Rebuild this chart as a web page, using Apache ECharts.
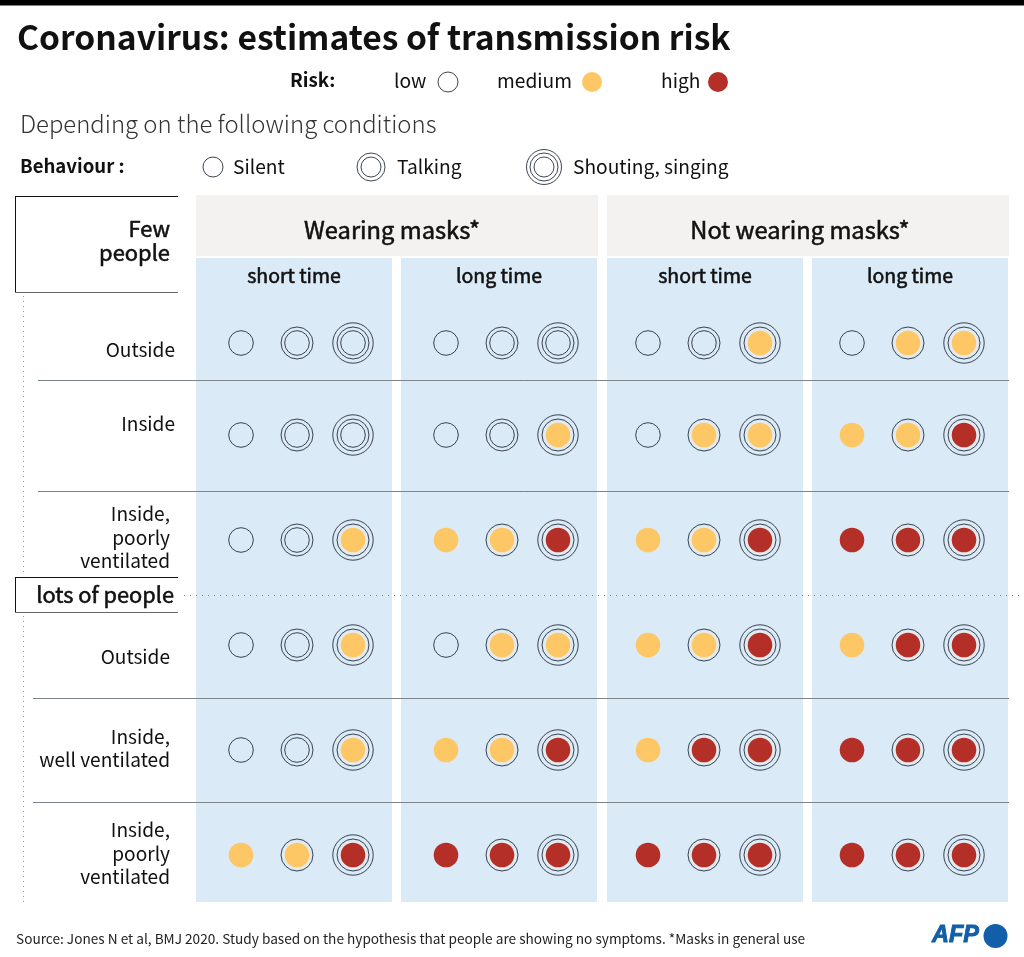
<!DOCTYPE html>
<html style="height: 100%">
<head>
    <meta charset="utf-8">
    <title>Coronavirus: estimates of transmission risk</title>
    <style>
        html, body { height: 100%; margin: 0; overflow: hidden; background: #fff; }
        #container { width: 1024px; height: 957px; }
    </style>
</head>
<body>
<div id="container"></div>
<script src="https://cdn.jsdelivr.net/npm/echarts@6/dist/echarts.min.js"></script>
<script>
// 0 low, 1 medium, 2 high. one row per condition, silent / talking / shouting in each
var behaviours = ['Silent', 'Talking', 'Shouting, singing'];
var conditions = ['Outside', 'Inside', 'Inside,\npoorly\nventilated', 'Outside', 'Inside,\nwell ventilated', 'Inside,\npoorly\nventilated'];
var durations = ['short time', 'long time', 'short time', 'long time'];
var maskGroups = ['Wearing masks*', 'Not wearing masks*'];
var riskLevels = ['low', 'medium', 'high'];

var maskedShort = [[0, 0, 0], [0, 0, 0], [0, 0, 1], [0, 0, 1], [0, 0, 1], [1, 1, 2]];
var maskedLong  = [[0, 0, 0], [0, 0, 1], [1, 1, 2], [0, 1, 1], [1, 1, 2], [2, 2, 2]];
var bareShort   = [[0, 0, 1], [0, 1, 1], [1, 1, 2], [1, 1, 2], [1, 2, 2], [2, 2, 2]];
var bareLong    = [[0, 1, 1], [1, 1, 2], [2, 2, 2], [1, 2, 2], [2, 2, 2], [2, 2, 2]];
var panels = [maskedShort, maskedLong, bareShort, bareLong];

var FONT = '"Noto Sans CJK SC", "Noto Sans", sans-serif';
var riskColors = ['transparent', '#fdc765', '#b42f27'];
var INK = '#1c2530';
var PANEL_BLUE = '#dbeaf7';

var panelLeft = [196, 401, 607, 812];
var gridLeft = [213, 418, 620, 824];
var RING = [12.3, 16, 20.2];

// first row sits closer to the header than the regular row pitch
function rowNudge(row) {
    return row === 0 ? 13 : 0;
}

function circles(cx, cy, behaviour, risk, radii) {
    var out = [];
    var i;
    if (risk > 0 && behaviour > 0) {
        out.push({ type: 'circle', shape: { cx: cx, cy: cy, r: radii[0] + 1.4 }, style: { fill: '#e9ebea' } });
    }
    if (risk > 0) {
        out.push({ type: 'circle', shape: { cx: cx, cy: cy, r: radii[0] }, style: { fill: riskColors[risk] } });
    }
    for (i = risk > 0 ? 1 : 0; i <= behaviour; i++) {
        out.push({ type: 'circle', shape: { cx: cx, cy: cy, r: radii[i] }, style: { fill: 'none', stroke: INK, lineWidth: 0.85 } });
    }
    return out;
}

function renderDot(params, api) {
    var row = api.value(1);
    var pt = api.coord([api.value(0), row]);
    return {
        type: 'group',
        children: circles(pt[0], pt[1] + rowNudge(row), api.value(0), api.value(2), RING)
    };
}

var grids = [], xAxes = [], yAxes = [], series = [];
panels.forEach(function (panel, p) {
    grids.push({ left: gridLeft[p], top: 277.5, width: 168, height: 630 });
    xAxes.push({ type: 'category', gridIndex: p, data: behaviours, show: false });
    yAxes.push({ type: 'category', gridIndex: p, data: conditions, inverse: true, show: false });
    var cells = [];
    panel.forEach(function (rowRisks, r) {
        rowRisks.forEach(function (risk, b) {
            cells.push([b, r, risk]);
        });
    });
    series.push({
        type: 'custom',
        name: durations[p],
        xAxisIndex: p,
        yAxisIndex: p,
        silent: true,
        renderItem: renderDot,
        data: cells,
        clip: false
    });
});

function label(text, x, y, size, weight, align, extra) {
    var style = {
        text: text,
        x: x,
        y: y,
        fill: '#111',
        font: weight + ' ' + size + 'px ' + FONT,
        align: align || 'left',
        verticalAlign: 'middle'
    };
    for (var k in extra) style[k] = extra[k];
    return { type: 'text', z: 5, style: style };
}

// no medium weight installed, a thin outline on the regular face gets close
function semi(text, x, y, size, align, lineHeight) {
    return label(text, x, y, size, 'normal', align, {
        stroke: '#111',
        lineWidth: 0.55,
        lineHeight: lineHeight
    });
}

function rect(x, y, w, h, fill) {
    return { type: 'rect', z: -1, shape: { x: x, y: y, width: w, height: h }, style: { fill: fill } };
}

function line(x1, y1, x2, y2, stroke, dash, width) {
    return {
        type: 'line',
        z: 1,
        shape: { x1: x1, y1: y1, x2: x2, y2: y2 },
        style: { stroke: stroke, lineWidth: width || 1, lineDash: dash || null }
    };
}

function legendMark(cx, cy, behaviour, risk) {
    return { type: 'group', z: 5, children: circles(cx, cy, behaviour, risk, [10, 14, 17.5]) };
}

var gfx = [];
gfx.push(rect(0, 0, 1024, 5.5, '#000'));

// title block
gfx.push(label('Coronavirus: estimates of transmission risk', 17, 37, 33.6, 'bold'));
gfx.push(label('Risk:', 290, 80, 18.8, 'bold'));
gfx.push(label(riskLevels[0], 394, 81, 19.2, 'normal'));
gfx.push(legendMark(448, 82, 0, 0));
gfx.push(label(riskLevels[1], 497, 81, 19.2, 'normal'));
gfx.push(legendMark(592, 82, 0, 1));
gfx.push(label(riskLevels[2], 661, 81, 19.2, 'normal'));
gfx.push(legendMark(718, 82, 0, 2));
gfx.push(label('Depending on the following conditions', 20, 124, 23.9, '300', 'left', { fill: '#333' }));
gfx.push(label('Behaviour :', 20, 166, 18.6, 'bold'));
gfx.push(legendMark(213, 167, 0, 0));
gfx.push(label(behaviours[0], 233, 167, 19.2, 'normal'));
gfx.push(legendMark(371, 167, 1, 0));
gfx.push(label(behaviours[1], 397, 167, 19.2, 'normal'));
gfx.push(legendMark(544, 167, 2, 0));
gfx.push(label(behaviours[2], 573, 167, 19.2, 'normal'));

// column headers and panels
gfx.push(rect(196, 195, 402, 61, '#f3f2f0'));
gfx.push(rect(607, 195, 402, 61, '#f3f2f0'));
gfx.push(semi(maskGroups[0], 392, 229.5, 23.7, 'center'));
gfx.push(semi(maskGroups[1], 800, 229.5, 23.7, 'center'));
panelLeft.forEach(function (x, p) {
    gfx.push(rect(x, 258, 196, 644, PANEL_BLUE));
    gfx.push(semi(durations[p], x + 98, 275.5, 19.5, 'center'));
});

// row labels
var labelRight = [175, 175, 170, 170, 170, 170];
var labelY = [349.5, 423.5, 537.5, 656.5, 748, 853.5];
conditions.forEach(function (c, i) {
    gfx.push(label(c, labelRight[i], labelY[i], 19.1, 'normal', 'right', { lineHeight: 23.5 }));
});

// few people / lots of people boxes
gfx.push(line(15.5, 196.5, 178, 196.5, '#111'));
gfx.push(line(15.5, 196, 15.5, 292.5, '#111'));
gfx.push(line(15.5, 292.5, 178, 292.5, '#666'));
gfx.push(semi('Few\npeople', 170, 241, 21.9, 'right', 24));
gfx.push(line(15.5, 577.5, 178, 577.5, '#111'));
gfx.push(line(15.5, 577, 15.5, 612.5, '#111'));
gfx.push(line(15.5, 612.5, 178, 612.5, '#666'));
gfx.push(semi('lots of people', 174, 595, 21.8, 'right'));

// separators
gfx.push(line(38, 380.5, 1009, 380.5, '#7d8488'));
gfx.push(line(38, 491.5, 1009, 491.5, '#7d8488'));
gfx.push(line(33, 698.5, 1009, 698.5, '#7d8488'));
gfx.push(line(33, 802.5, 1009, 802.5, '#7d8488'));
gfx.push(line(184, 595.5, 1024, 595.5, '#6f8090', [1, 5]));
gfx.push(line(23.5, 296, 23.5, 575, '#999', [1, 4]));
gfx.push(line(23.5, 616, 23.5, 902, '#999', [1, 4]));

// footer
gfx.push(label('Source: Jones N et al, BMJ 2020. Study based on the hypothesis that people are showing no symptoms. *Masks in general use', 16, 939, 13.65, 'normal', 'left', { fill: '#222' }));
gfx.push(label('AFP', 932, 936, 23.5, 'bold', 'left', {
    fill: '#125ea8',
    stroke: '#125ea8',
    lineWidth: 0.9,
    font: 'italic bold 23.5px "Liberation Sans", sans-serif'
}));
gfx.push({ type: 'circle', z: 5, shape: { cx: 995.5, cy: 936, r: 12 }, style: { fill: '#125ea8' } });

var myChart = echarts.init(document.getElementById('container'));
myChart.setOption({
    animation: false,
    backgroundColor: '#fff',
    grid: grids,
    xAxis: xAxes,
    yAxis: yAxes,
    series: series,
    graphic: { elements: gfx }
});
</script>
</body>
</html>
